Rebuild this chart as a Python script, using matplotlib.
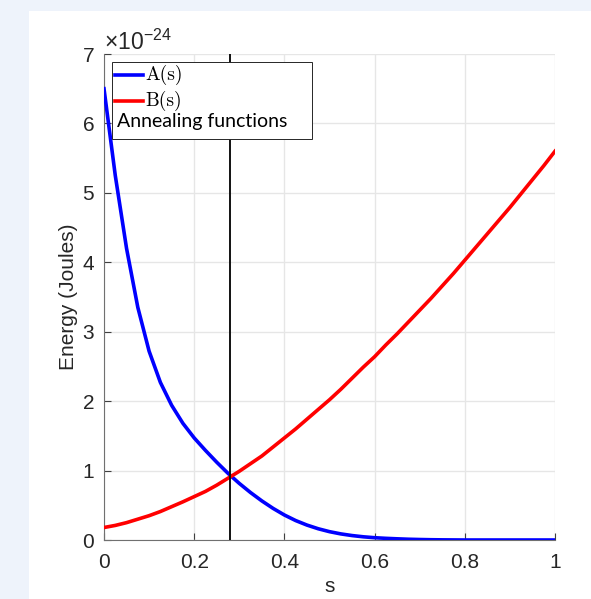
import matplotlib
matplotlib.use('Agg')
import matplotlib.pyplot as plt
from matplotlib.patches import Rectangle
from matplotlib.ticker import ScalarFormatter

# annealing schedule, energies in units of 1e-24 J
s = [0.0, 0.025, 0.05, 0.075, 0.1, 0.125, 0.15, 0.175, 0.2, 0.225,
     0.25, 0.275, 0.3, 0.325, 0.35, 0.375, 0.4, 0.425, 0.45, 0.475,
     0.5, 0.525, 0.55, 0.575, 0.6, 0.625, 0.65, 0.675, 0.7, 0.725,
     0.75, 0.775, 0.8, 0.825, 0.85, 0.875, 0.9, 0.925, 0.95, 0.975, 1.0]
A = [6.50, 5.25, 4.20, 3.35, 2.72, 2.27, 1.94, 1.68, 1.47, 1.29,
     1.12, 0.96, 0.815, 0.683, 0.563, 0.455, 0.36, 0.28, 0.215, 0.162,
     0.12, 0.088, 0.064, 0.046, 0.033, 0.024, 0.017, 0.011, 0.007, 0.004,
     0.002, 0.001, 0.0, 0.0, 0.0, 0.0, 0.0, 0.0, 0.0, 0.0, 0.0]
B = [0.18, 0.21, 0.25, 0.30, 0.35, 0.41, 0.48, 0.55, 0.625, 0.70,
     0.79, 0.89, 0.99, 1.10, 1.21, 1.34, 1.47, 1.60, 1.74, 1.88,
     2.02, 2.17, 2.33, 2.49, 2.64, 2.81, 2.97, 3.14, 3.31, 3.48,
     3.66, 3.84, 4.03, 4.22, 4.41, 4.60, 4.79, 4.99, 5.19, 5.39, 5.60]
scale = 1e-24
s_cross = 0.28
labels = ['A(s)', 'B(s)']
legend_note = 'Annealing functions'

plt.rcParams['font.family'] = ['Liberation Sans', 'DejaVu Sans']
plt.rcParams['mathtext.fontset'] = 'custom'
plt.rcParams['mathtext.rm'] = 'Liberation Sans'

fig = plt.figure(figsize=(5.91, 5.99), dpi=100)
fig.patch.set_facecolor('#eef3fb')
fig.patches.append(Rectangle((29 / 591, 0), 1, 588 / 599, transform=fig.transFigure,
                             facecolor='white', edgecolor='none', zorder=-10))

ax = fig.add_axes([104 / 591, 59 / 599, 451 / 591, 486 / 599])
ax.set_facecolor('white')

ax.plot(s, [a * scale for a in A], color='#0000ff', lw=2.6, zorder=3)
ax.plot(s, [b * scale for b in B], color='#ff0000', lw=2.6, zorder=3)
ax.axvline(s_cross, color='#111111', lw=1.4, zorder=4)

ax.set_xlim(0, 1)
ax.set_ylim(0, 7 * scale)
ax.set_xticks([0, 0.2, 0.4, 0.6, 0.8, 1])
ax.set_xticklabels(['0', '0.2', '0.4', '0.6', '0.8', '1'])
ax.set_yticks([i * scale for i in range(8)])
fmt = ScalarFormatter(useMathText=True)
fmt.set_powerlimits((0, 0))
ax.yaxis.set_major_formatter(fmt)
ax.yaxis.get_offset_text().set_fontsize(16.5)
ax.yaxis.get_offset_text().set_color('#262626')

ax.grid(True, color='#e6e6e6', lw=1)
ax.set_axisbelow(True)
for side in ['top', 'right']:
    ax.spines[side].set_visible(False)
for side in ['left', 'bottom']:
    ax.spines[side].set_color('#707070')
    ax.spines[side].set_linewidth(0.8)
ax.tick_params(direction='in', length=5, width=0.8, color='#404040',
               labelsize=15, labelcolor='#262626')
ax.tick_params(axis='x', pad=9)
ax.tick_params(axis='y', pad=6.5)

ax.set_xlabel('s', fontsize=15, color='#262626', labelpad=4)
ax.set_ylabel('Energy (Joules)', fontsize=15, color='#262626', labelpad=3)

# legend box drawn like the MATLAB one (note line is left aligned)
ax.add_patch(Rectangle((0.017, 0.825), 0.4435, 0.159, transform=ax.transAxes,
                       facecolor='white', edgecolor='#262626', lw=0.7, zorder=5))
ax.plot([0.024, 0.087], [0.957, 0.957], transform=ax.transAxes, color='#0000ff',
        lw=2.6, zorder=6, clip_on=False)
ax.plot([0.024, 0.087], [0.904, 0.904], transform=ax.transAxes, color='#ff0000',
        lw=2.6, zorder=6, clip_on=False)
ax.text(0.0925, 0.957, labels[0], transform=ax.transAxes, family='cmr10',
        fontsize=14, va='center', ha='left', zorder=6)
ax.text(0.0925, 0.904, labels[1], transform=ax.transAxes, family='cmr10',
        fontsize=14, va='center', ha='left', zorder=6)
ax.text(0.028, 0.862, legend_note, transform=ax.transAxes, family='Lato',
        fontsize=14, va='center', ha='left', zorder=6)

fig.savefig('out.png', dpi=100, facecolor=fig.get_facecolor())
